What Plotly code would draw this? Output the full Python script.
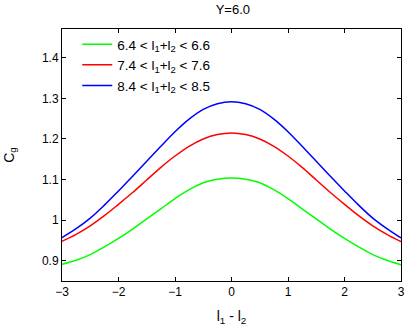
import plotly.graph_objects as go

# values at quarter-unit steps
x_vals = [-3, -2.75, -2.5, -2.25, -2, -1.75, -1.5, -1.25, -1, -0.75, -0.5, -0.25, 0,
          0.25, 0.5, 0.75, 1, 1.25, 1.5, 1.75, 2, 2.25, 2.5, 2.75, 3]
green_vals = [0.891, 0.901, 0.915, 0.934, 0.955, 0.978, 1.003, 1.028, 1.053, 1.075, 1.092, 1.101, 1.104,
              1.101, 1.092, 1.075, 1.053, 1.028, 1.003, 0.978, 0.955, 0.934, 0.915, 0.901, 0.890]
red_vals = [0.948, 0.965, 0.986, 1.011, 1.039, 1.068, 1.099, 1.130, 1.158, 1.182, 1.200, 1.211, 1.215,
            1.211, 1.200, 1.182, 1.158, 1.130, 1.099, 1.068, 1.039, 1.011, 0.986, 0.965, 0.947]
blue_vals = [0.957, 0.979, 1.005, 1.037, 1.072, 1.108, 1.145, 1.182, 1.218, 1.249, 1.273, 1.287, 1.292,
             1.287, 1.273, 1.249, 1.218, 1.182, 1.145, 1.108, 1.072, 1.037, 1.005, 0.979, 0.956]

series_names = [
    "6.4 < l<sub>1</sub>+l<sub>2</sub> < 6.6",
    "7.4 < l<sub>1</sub>+l<sub>2</sub> < 7.6",
    "8.4 < l<sub>1</sub>+l<sub>2</sub> < 8.5",
]
series_colors = ["#00ff00", "#ff0000", "#0000ff"]

x_ticks = [-3, -2, -1, 0, 1, 2, 3]
y_ticks = [0.9, 1.0, 1.1, 1.2, 1.3, 1.4]
y_tick_labels = ["0.9", "1", "1.1", "1.2", "1.3", "1.4"]

fig = go.Figure()

for name, color, ys in zip(series_names, series_colors, [green_vals, red_vals, blue_vals]):
    fig.add_trace(
        go.Scatter(
            x=x_vals,
            y=ys,
            mode="lines",
            name=name,
            line=dict(color=color, width=1.5, shape="spline", smoothing=1.0),
        )
    )

axis_common = dict(
    showline=True,
    linecolor="black",
    linewidth=1,
    mirror="ticks",
    ticks="inside",
    ticklen=4,
    tickcolor="black",
    showgrid=False,
    zeroline=False,
    tickfont=dict(family="Liberation Sans, Arial, sans-serif", size=12, color="black"),
)

fig.update_layout(
    width=410,
    height=327,
    margin=dict(l=62, r=5, t=29, b=46),
    paper_bgcolor="white",
    plot_bgcolor="white",
    font=dict(family="Liberation Sans, Arial, sans-serif", size=12, color="black"),
    title=dict(text="Y=6.0", x=0.568, xanchor="center", y=0.985, yanchor="top",
               font=dict(size=13)),
    xaxis=dict(
        range=[-3, 3],
        tickvals=x_ticks,
        title=dict(text="l<sub>1</sub> - l<sub>2</sub>", standoff=12),
        **axis_common,
    ),
    yaxis=dict(
        range=[0.85, 1.471],
        tickvals=y_ticks,
        ticktext=y_tick_labels,
        title=dict(text="C<sub>g</sub>", standoff=24),
        **axis_common,
    ),
    legend=dict(
        x=0.045,
        y=1.0,
        xanchor="left",
        yanchor="top",
        bgcolor="rgba(0,0,0,0)",
        font=dict(size=13.5),
        tracegroupgap=0,
    ),
    showlegend=True,
)

fig.write_html(
    "out.html",
    config={"displayModeBar": False},
    post_script="document.body.style.margin='0';document.body.style.overflow='hidden';",
)
